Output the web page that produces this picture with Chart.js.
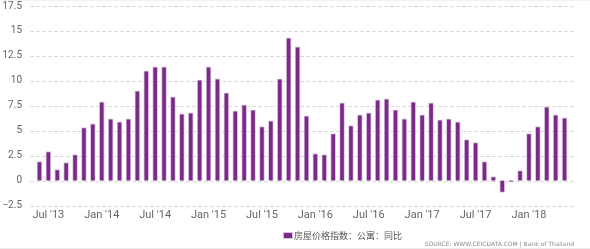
<!DOCTYPE html>
<html>
<head>
<meta charset="utf-8">
<script src="https://cdn.jsdelivr.net/npm/chart.js@4.4.1/dist/chart.umd.min.js"></script>
<style>
  html, body { margin: 0; padding: 0; background: #fff; }
  #wrap { position: relative; width: 590px; height: 249px; overflow: hidden; background: #fff; }
  #wrap canvas { position: absolute; left: 0; top: 0; }
  #topline { position: absolute; left: 0; top: 0; width: 590px; height: 1px; background: #f2f2f2; }
  #botline { position: absolute; left: 0; top: 248px; width: 590px; height: 1px; background: #ececec; }
  #legend { position: absolute; left: 283px; top: 229px; height: 14px; font-family: "Noto Sans CJK SC", sans-serif; font-size: 9px; color: #555; white-space: nowrap; line-height: 14px; }
  #legend .sw { display: inline-block; width: 8px; height: 5px; background: #7b2b87; border: 1px solid #d7bfe0; vertical-align: middle; margin-right: 1px; position: relative; top: -1px; }
  #source { position: absolute; right: 16px; top: 240px; font-family: "DejaVu Sans", sans-serif; font-size: 6px; color: #8a8a8a; white-space: nowrap; line-height: 8px; }
</style>
</head>
<body>
<div id="wrap">
  <canvas id="c" width="590" height="249"></canvas>
  <div id="topline"></div>
  <div id="botline"></div>
  <div id="legend"><span class="sw"></span><span id="legtext"></span></div>
  <div id="source">SOURCE: WWW.CEICDATA.COM | Bank of Thailand</div>
</div>
<script>
const categories = [
  "2013-06","2013-07","2013-08","2013-09","2013-10","2013-11","2013-12",
  "2014-01","2014-02","2014-03","2014-04","2014-05","2014-06","2014-07","2014-08","2014-09","2014-10","2014-11","2014-12",
  "2015-01","2015-02","2015-03","2015-04","2015-05","2015-06","2015-07","2015-08","2015-09","2015-10","2015-11","2015-12",
  "2016-01","2016-02","2016-03","2016-04","2016-05","2016-06","2016-07","2016-08","2016-09","2016-10","2016-11","2016-12",
  "2017-01","2017-02","2017-03","2017-04","2017-05","2017-06","2017-07","2017-08","2017-09","2017-10","2017-11","2017-12",
  "2018-01","2018-02","2018-03","2018-04","2018-05"
];
const seriesValues = [
  1.9, 2.9, 1.1, 1.8, 2.6, 5.3, 5.7,
  7.9, 6.2, 5.9, 6.2, 9.0, 11.0, 11.4, 11.4, 8.4, 6.7, 6.8, 10.1,
  11.4, 10.2, 8.8, 7.0, 7.6, 7.1, 5.4, 6.0, 10.2, 14.3, 13.4, 6.5,
  2.7, 2.6, 4.7, 7.8, 5.5, 6.6, 6.8, 8.1, 8.2, 7.1, 6.2, 7.9,
  6.6, 7.8, 6.1, 6.2, 5.9, 4.1, 3.8, 1.9, 0.4, -1.2, -0.1, 1.0,
  4.7, 5.4, 7.4, 6.6, 6.3
];
const seriesName = "房屋价格指数：公寓：同比";
const xTickLabels = {
  "2013-07": "Jul '13", "2014-01": "Jan '14", "2014-07": "Jul '14",
  "2015-01": "Jan '15", "2015-07": "Jul '15", "2016-01": "Jan '16",
  "2016-07": "Jul '16", "2017-01": "Jan '17", "2017-07": "Jul '17",
  "2018-01": "Jan '18"
};
const yTickValues = [-2.5, 0, 2.5, 5, 7.5, 10, 12.5, 15, 17.5];
const yTickLabels = ["−2.5", "0", "2.5", "5", "7.5", "10", "12.5", "15", "17.5"];

document.getElementById('legtext').textContent = seriesName;

const gridPlugin = {
  id: 'dashGrid',
  beforeDatasetsDraw(chart) {
    const ctx = chart.ctx;
    const y = chart.scales.y;
    ctx.save();
    ctx.strokeStyle = '#dadada';
    ctx.lineWidth = 1;
    ctx.setLineDash([4, 2]);
    yTickValues.forEach(v => {
      const py = Math.round(y.getPixelForValue(v)) + 0.5;
      ctx.beginPath();
      ctx.moveTo(30, py);
      ctx.lineTo(574, py);
      ctx.stroke();
    });
    ctx.restore();
  }
};

new Chart(document.getElementById('c'), {
  type: 'bar',
  data: {
    labels: categories,
    datasets: [{
      label: seriesName,
      data: seriesValues,
      backgroundColor: '#7b2b87',
      borderColor: '#dcc6e4',
      borderWidth: 1,
      borderSkipped: 'start',
      barThickness: 5
    }]
  },
  options: {
    responsive: false,
    animation: false,
    devicePixelRatio: 1,
    layout: { padding: { left: 0, right: 21, top: 6, bottom: 0 } },
    plugins: { legend: { display: false }, tooltip: { enabled: false } },
    scales: {
      x: {
        type: 'category',
        offset: true,
        grid: { display: false, drawTicks: false },
        border: { display: false },
        ticks: {
          autoSkip: false,
          maxRotation: 0,
          minRotation: 0,
          padding: 3,
          color: '#666',
          font: { family: 'Roboto', size: 11 },
          callback: function(val, idx) {
            const c = categories[idx];
            return xTickLabels[c] || '';
          }
        },
        afterFit(scale) { scale.height = 43.5; scale.paddingLeft = 0; scale.paddingRight = 0; }
      },
      y: {
        min: -2.5,
        max: 17.5,
        grid: { display: false, drawTicks: false },
        border: { display: false },
        ticks: {
          stepSize: 2.5,
          padding: 13,
          color: '#666',
          font: { family: 'Roboto', size: 10 },
          callback: function(v) {
            const i = yTickValues.indexOf(v);
            return i >= 0 ? yTickLabels[i] : '';
          }
        },
        afterFit(scale) { scale.width = 35; scale.paddingTop = 0; scale.paddingBottom = 0; }
      }
    }
  },
  plugins: [gridPlugin]
});
</script>
</body>
</html>
